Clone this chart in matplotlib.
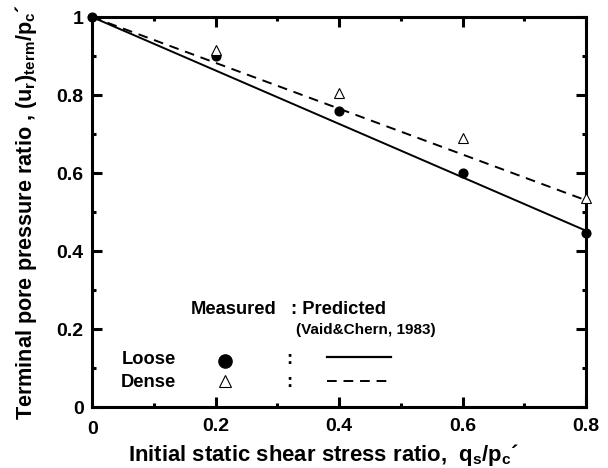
import matplotlib
matplotlib.use("Agg")
import matplotlib.pyplot as plt
from matplotlib.ticker import MultipleLocator

plt.rcParams['font.family'] = ['Liberation Sans', 'DejaVu Sans']
plt.rcParams['font.weight'] = 'bold'
plt.rcParams['mathtext.fontset'] = 'custom'
plt.rcParams['mathtext.rm'] = 'Liberation Sans:bold'
plt.rcParams['mathtext.it'] = 'Liberation Sans:bold'
plt.rcParams['mathtext.bf'] = 'Liberation Sans:bold'
plt.rcParams['mathtext.default'] = 'rm'

# Measured data
loose_x = [0.0, 0.2, 0.4, 0.6, 0.8]
loose_y = [1.0, 0.90, 0.76, 0.60, 0.445]
dense_x = [0.2, 0.4, 0.6, 0.8]
dense_y = [0.915, 0.805, 0.69, 0.535]

# Predicted lines (Vaid & Chern, 1983)
pred_x = [0.0, 0.8]
pred_loose = [1.0, 0.452]
pred_dense = [1.0, 0.53]

xticks = [0.2, 0.4, 0.6, 0.8]
xticklabels = ['0.2', '0.4', '0.6', '0.8']
yticks = [0, 0.2, 0.4, 0.6, 0.8, 1.0]
yticklabels = ['0', '0.2', '0.4', '0.6', '0.8', '1']

fig = plt.figure(figsize=(6.08, 4.68), dpi=100)
ax = fig.add_axes([92/608, 1 - 407/468, 494/608, 390/468])

ax.plot(pred_x, pred_loose, color='black', lw=1.4, ls='-')
ax.plot(pred_x, pred_dense, color='black', lw=1.4, ls=(0, (5, 3.5)))
ax.plot(loose_x, loose_y, 'o', color='black', ms=6.3, clip_on=False, zorder=5)
ax.plot(dense_x, dense_y, '^', mfc='white', mec='black', mew=0.8, ms=7.5, clip_on=False, zorder=5)

ax.set_xlim(0, 0.8)
ax.set_ylim(0, 1.0)
ax.set_xticks(xticks)
ax.set_xticklabels(xticklabels)
ax.set_yticks(yticks)
ax.set_yticklabels(yticklabels)
ax.xaxis.set_minor_locator(MultipleLocator(0.1))
ax.yaxis.set_minor_locator(MultipleLocator(0.1))
ax.tick_params(which='both', direction='in', top=True, right=True, width=2.2)
ax.tick_params(which='major', length=7, labelsize=14)
ax.tick_params(axis='x', which='major', pad=8)
ax.tick_params(axis='y', which='major', pad=6)
ax.tick_params(which='minor', length=3)
for s in ax.spines.values():
    s.set_linewidth(2.2)

fig.text(93/608, 1 - 429/468, '0', ha='center', va='center', fontsize=14, fontweight='bold')

fig.text(324/608, 1 - 461/468,
         "Initial static shear stress ratio,  q$_s$/p$_c$\u00b4",
         fontsize=15.9, fontweight='bold', ha='center', va='baseline')
fig.text(26/608, 1 - 212/468,
         "Terminal pore pressure ratio , (u$_r$)$_{term}$/p$_c$\u00b4",
         fontsize=15.6, fontweight='bold', ha='center', va='center', rotation=90)

# Legend built from text
fs = 13.2
ax.text(0.160, 0.249, 'Measured', fontsize=fs, fontweight='bold', va='center', ha='left')
ax.text(0.322, 0.249, ': Predicted', fontsize=fs, fontweight='bold', va='center', ha='left')
ax.text(0.330, 0.197, '(Vaid&Chern, 1983)', fontsize=11, fontweight='bold', va='center', ha='left')
ax.text(0.136, 0.121, 'Loose', fontsize=fs, fontweight='bold', va='center', ha='right')
ax.text(0.136, 0.064, 'Dense', fontsize=fs, fontweight='bold', va='center', ha='right')
ax.plot([0.215], [0.118], 'o', color='black', ms=9.5)
ax.plot([0.215], [0.066], '^', mfc='white', mec='black', mew=0.8, ms=8)
ax.text(0.319, 0.121, ':', fontsize=fs, fontweight='bold', va='center', ha='center')
ax.text(0.319, 0.064, ':', fontsize=fs, fontweight='bold', va='center', ha='center')
ax.plot([0.381, 0.484], [0.128, 0.128], color='black', lw=1.6)
ax.plot([0.381, 0.484], [0.067, 0.067], color='black', lw=1.4, ls=(0, (5, 3.5)))

fig.savefig('out.png', dpi=100)
